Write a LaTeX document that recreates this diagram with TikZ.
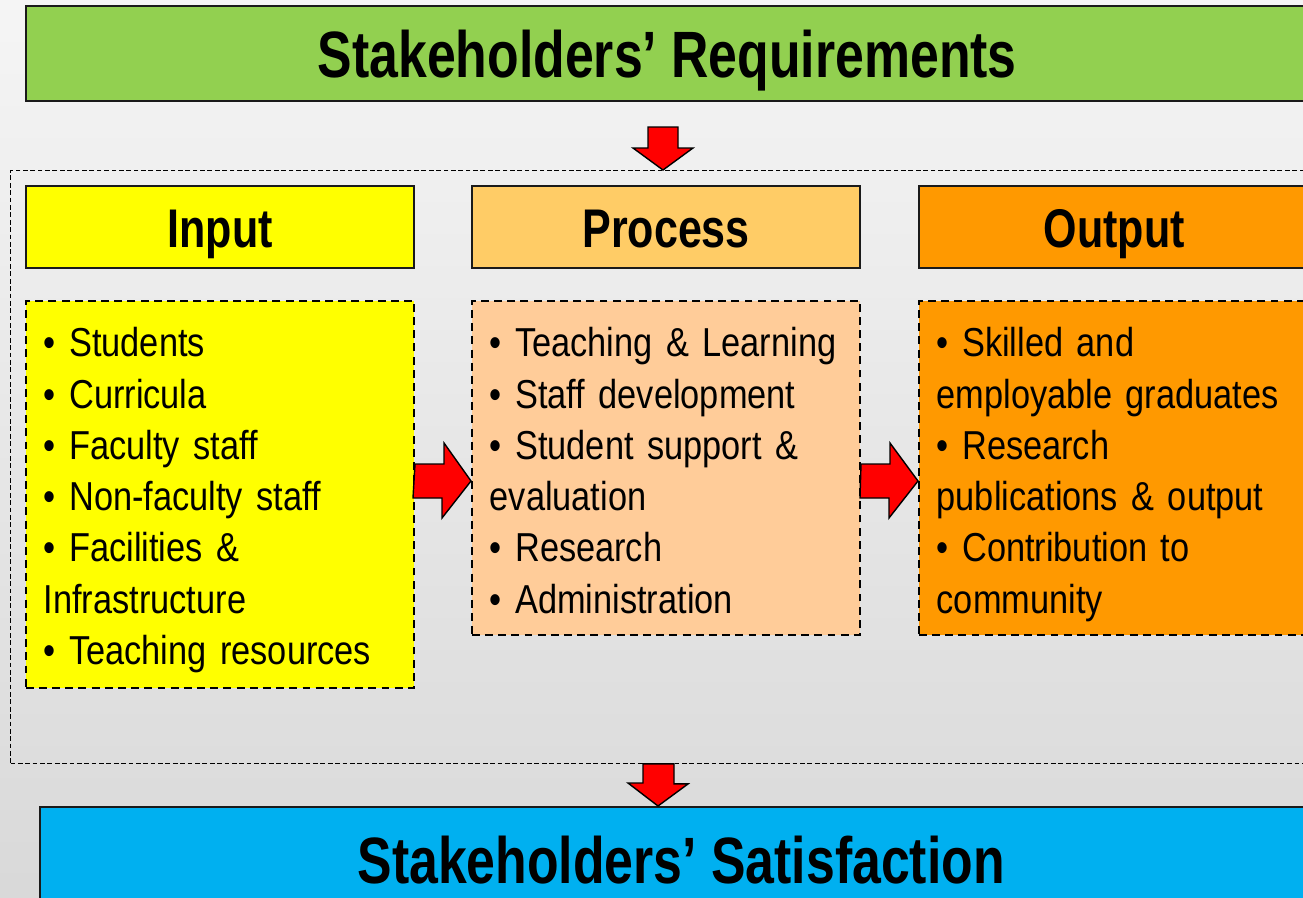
\documentclass[tikz,border=0pt]{standalone}
\usepackage{fontspec}
\setmainfont[FakeStretch=0.85]{Liberation Sans}
\newfontfamily\headfont[FakeStretch=0.79]{Liberation Sans}

\definecolor{reqgreen}{HTML}{92D050}
\definecolor{inyellow}{HTML}{FFFF00}
\definecolor{procheadcol}{HTML}{FFCC66}
\definecolor{procbodycol}{HTML}{FFCC99}
\definecolor{outorange}{HTML}{FF9900}
\definecolor{satblue}{HTML}{00B0F0}
\definecolor{edgecol}{HTML}{1A1A1A}

\tikzset{
  bigbox/.style={draw=edgecol, line width=1pt, anchor=north west, inner sep=0pt,
    minimum width=25.66cm, text height=34pt, text depth=6pt,
    font=\headfont\bfseries\fontsize{37.3}{40}\selectfont},
  headbox/.style={draw=edgecol, line width=1pt, anchor=north west, inner sep=0pt,
    minimum width=7.77cm, minimum height=1.64cm, text height=27pt, text depth=3pt,
    font=\headfont\bfseries\fontsize{31}{34}\selectfont},
  bodybox/.style={draw=black, dash pattern=on 4.5pt off 3pt, line width=0.9pt, anchor=north west,
    align=left, text width=7.05cm, inner xsep=0.36cm, inner ysep=0pt, text height=1.12cm,
    font=\fontsize{23}{29.2}\selectfont},
  framebox/.style={draw=black, dash pattern=on 2.7pt off 1.5pt, line width=0.6pt, anchor=north west,
    inner sep=0pt, minimum width=26.2cm, minimum height=11.86cm},
  blockarrow/.style={fill=red, draw=black, line width=0.8pt, line join=miter}
}

\begin{document}
\begin{tikzpicture}[x=0.02cm, y=-0.02cm]
  \useasboundingbox (0,0) rectangle (1303,897);
  \clip (0,0) rectangle (1303,897);
  \fill[top color=black!4, bottom color=black!15] (0,0) rectangle (1303,897);

  \node[bigbox, fill=reqgreen, minimum height=1.9cm] (req) at (25,5) {Stakeholders’ Requirements};
  \node[framebox] (frame) at (10,170) {};

  % headers
  \node[headbox, fill=inyellow] (inhead) at (25,185) {Input};
  \node[headbox, fill=procheadcol] (prochead) at (471,185) {Process};
  \node[headbox, fill=outorange, minimum width=7.82cm] (outhead) at (918,185) {Output};

  % bodies
  \node[bodybox, fill=inyellow, text depth=6.62cm] (inbody) at (25,300)
    {\textbullet{} Students\\ \textbullet{} Curricula\\ \textbullet{} Faculty staff\\
     \textbullet{} Non-faculty staff\\ \textbullet{} Facilities \&\\ Infrastructure\\
     \textbullet{} Teaching resources};
  \node[bodybox, fill=procbodycol, text depth=5.56cm] (procbody) at (471,300)
    {\textbullet{} Teaching \& Learning\\ \textbullet{} Staff development\\
     \textbullet{} Student support \&\\ evaluation\\ \textbullet{} Research\\
     \textbullet{} Administration};
  \node[bodybox, fill=outorange, text depth=5.56cm] (outbody) at (918,300)
    {\textbullet{} Skilled and\\ employable graduates\\ \textbullet{} Research\\
     publications \& output\\ \textbullet{} Contribution to\\ community};

  \node[bigbox, fill=satblue, minimum height=2.08cm] (sat) at (39,806) {Stakeholders’ Satisfaction};

  % arrows down, right, right, down
  \draw[blockarrow] (663,127) ++(-15,0) -- ++(30,0) -- ++(0,21) -- ++(15,0)
    -- (frame.north -| 663,0) -- ++(-30,-22) -- ++(15,0) -- cycle;
  \draw[blockarrow] (inbody.east |- 0,481) ++(0,-17) -- ++(29,0) -- ++(0,-21)
    -- (procbody.west |- 0,481) -- ++(-29,37) -- ++(0,-20) -- ++(-29,0) -- cycle;
  \draw[blockarrow] (procbody.east |- 0,481) ++(0,-17) -- ++(29,0) -- ++(0,-21)
    -- (outbody.west |- 0,481) -- ++(-29,37) -- ++(0,-20) -- ++(-29,0) -- cycle;
  \draw[blockarrow] (frame.south -| 658,0) ++(-15,0) -- ++(31,0) -- ++(0,20) -- ++(14,0)
    -- (sat.north -| 658,0) -- ++(-30,-23) -- ++(15,0) -- cycle;
\end{tikzpicture}
\end{document}
